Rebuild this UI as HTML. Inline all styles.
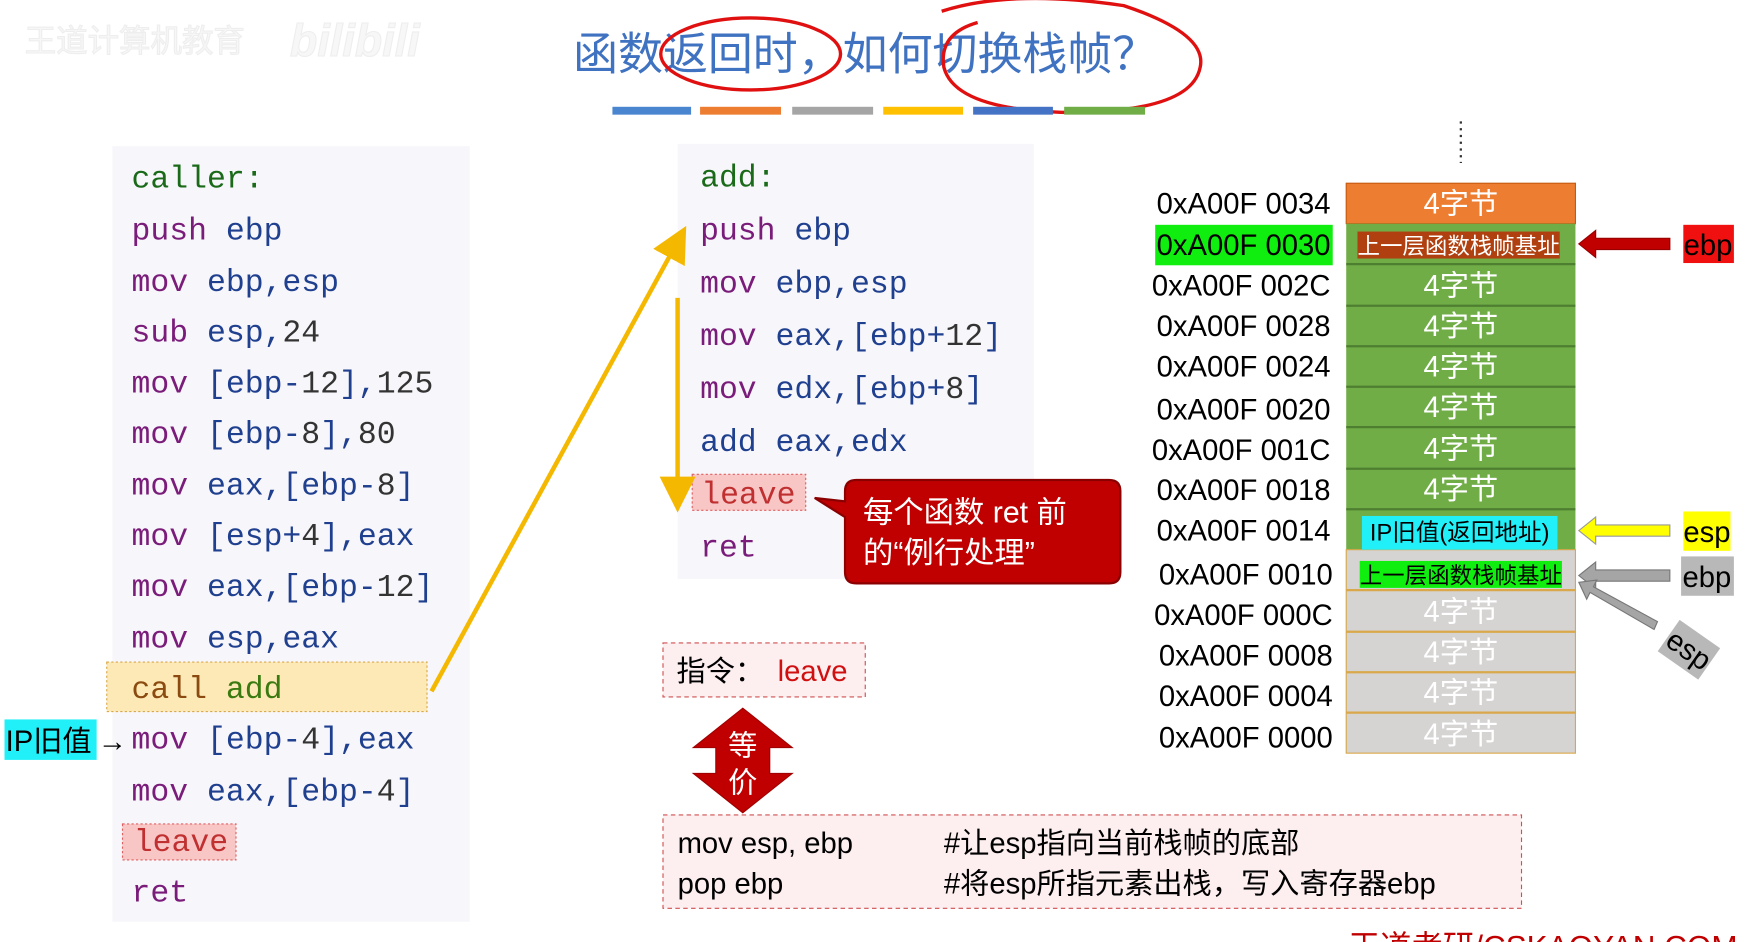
<!DOCTYPE html>
<html><head><meta charset="utf-8"><style>
html,body{margin:0;padding:0;background:#fff;width:1753px;height:942px;overflow:hidden}
svg{display:block}
.m{font-family:"Liberation Mono",monospace;font-size:28px}
.s{font-family:"Liberation Sans","Noto Sans CJK SC",sans-serif}
.k{fill:#7a1c7a}.o{fill:#1f3f8f}.n{fill:#333}
</style></head><body>
<svg width="1753" height="942" viewBox="0 0 1560 838" preserveAspectRatio="none" xmlns="http://www.w3.org/2000/svg">
<defs>
<marker id="ya" markerWidth="8" markerHeight="8" refX="4" refY="4" orient="auto" markerUnits="strokeWidth"><path d="M0,0 L8,4 L0,8 z" fill="#f5b800"/></marker>
</defs>
<rect width="1560" height="838" fill="#fff"/>
<text x="22" y="46" class="s" font-size="28" fill="#f7f7f7" stroke="#eeeeee" stroke-width="1">王道计算机教育</text>
<text x="258" y="50" class="s" font-size="40" font-style="italic" font-weight="bold" fill="#f7f7f7" stroke="#eeeeee" stroke-width="1">bilibili</text>
<text x="510" y="62" class="s" font-size="40" fill="#3f72c0">函数返回时，如何切换栈帧？</text>
<ellipse cx="668" cy="48" rx="80" ry="32" fill="none" stroke="#e01010" stroke-width="3"/>
<path d="M838,10 Q900,-10 1000,5 Q1075,30 1068,60 Q1060,100 950,100 Q850,98 840,60 Q835,30 870,20" fill="none" stroke="#e01010" stroke-width="3"/>
<g>
<rect x="545" y="95" width="70" height="7" fill="#4a86d0"/><rect x="623" y="95" width="72" height="7" fill="#ed7d31"/>
<rect x="705" y="95" width="72" height="7" fill="#a5a5a5"/><rect x="786" y="95" width="71" height="7" fill="#ffc000"/>
<rect x="866" y="95" width="71" height="7" fill="#4472c4"/><rect x="947" y="95" width="72" height="7" fill="#70ad47"/>
</g>
<rect x="100" y="130" width="318" height="690" fill="#f7f6fa"/>
<rect x="95" y="589" width="285" height="44" fill="#fde9b5" stroke="#d9a84a" stroke-dasharray="2,2"/>
<rect x="109" y="733" width="101" height="32" fill="#f9c6c6" stroke="#e06060" stroke-dasharray="2,2"/>
<g class="m">
<text x="117" y="167" fill="#1a6a1a">caller:</text>
<text x="117" y="213"><tspan class="k">push</tspan><tspan class="o"> ebp</tspan></text>
<text x="117" y="259"><tspan class="k">mov</tspan><tspan class="o"> ebp,esp</tspan></text>
<text x="117" y="304"><tspan class="k">sub</tspan><tspan class="o"> esp,</tspan><tspan class="n">24</tspan></text>
<text x="117" y="349"><tspan class="k">mov</tspan><tspan class="o"> [ebp-</tspan><tspan class="n">12</tspan><tspan class="o">],</tspan><tspan class="n">125</tspan></text>
<text x="117" y="394"><tspan class="k">mov</tspan><tspan class="o"> [ebp-</tspan><tspan class="n">8</tspan><tspan class="o">],</tspan><tspan class="n">80</tspan></text>
<text x="117" y="440"><tspan class="k">mov</tspan><tspan class="o"> eax,[ebp-</tspan><tspan class="n">8</tspan><tspan class="o">]</tspan></text>
<text x="117" y="485"><tspan class="k">mov</tspan><tspan class="o"> [esp+</tspan><tspan class="n">4</tspan><tspan class="o">],eax</tspan></text>
<text x="117" y="530"><tspan class="k">mov</tspan><tspan class="o"> eax,[ebp-</tspan><tspan class="n">12</tspan><tspan class="o">]</tspan></text>
<text x="117" y="576"><tspan class="k">mov</tspan><tspan class="o"> esp,eax</tspan></text>
<text x="117" y="621"><tspan fill="#8a4a10">call</tspan><tspan fill="#3a7a10">  add</tspan></text>
<text x="117" y="666"><tspan class="k">mov</tspan><tspan class="o"> [ebp-</tspan><tspan class="n">4</tspan><tspan class="o">],eax</tspan></text>
<text x="117" y="712"><tspan class="k">mov</tspan><tspan class="o"> eax,[ebp-</tspan><tspan class="n">4</tspan><tspan class="o">]</tspan></text>
<text x="119" y="757" fill="#c03030">leave</text>
<text x="117" y="802" class="k">ret</text>
</g>
<rect x="4" y="640" width="82" height="36" fill="#22f0f8"/>
<text x="5" y="668" class="s" font-size="26" fill="#000">IP旧值</text>
<text x="87" y="668" class="s" font-size="26" fill="#000">→</text>
<rect x="603" y="128" width="317" height="387" fill="#f7f6fa"/>
<rect x="616" y="422" width="101" height="32" fill="#f9c6c6" stroke="#e06060" stroke-dasharray="2,2"/>
<g class="m">
<text x="623" y="166" fill="#1a6a1a">add:</text>
<text x="623" y="213"><tspan class="k">push</tspan><tspan class="o"> ebp</tspan></text>
<text x="623" y="260"><tspan class="k">mov</tspan><tspan class="o"> ebp,esp</tspan></text>
<text x="623" y="307"><tspan class="k">mov</tspan><tspan class="o"> eax,[ebp+</tspan><tspan class="n">12</tspan><tspan class="o">]</tspan></text>
<text x="623" y="354"><tspan class="k">mov</tspan><tspan class="o"> edx,[ebp+</tspan><tspan class="n">8</tspan><tspan class="o">]</tspan></text>
<text x="623" y="401"><tspan class="o">add eax,edx</tspan></text>
<text x="624" y="448" fill="#c03030">leave</text>
<text x="623" y="495" class="k">ret</text>
</g>
<line x1="384" y1="615" x2="603" y2="215" stroke="#f5b800" stroke-width="4" marker-end="url(#ya)"/>
<line x1="603" y1="265" x2="603" y2="440" stroke="#f5b800" stroke-width="4" marker-end="url(#ya)"/>
<path d="M762,427 H987 Q997,427 997,437 V509 Q997,519 987,519 H762 Q752,519 752,509 V460 L725,443 L752,446 V437 Q752,427 762,427 Z" fill="#c00000" stroke="#8a0000" stroke-width="2"/>
<text x="768" y="465" class="s" font-size="27" fill="#fff">每个函数 ret 前</text>
<text x="768" y="501" class="s" font-size="27" fill="#fff">的“例行处理”</text>
<rect x="590" y="572" width="180" height="48" fill="#fdeef0" stroke="#d05050" stroke-dasharray="4,3"/>
<text x="602" y="606" class="s" font-size="26" fill="#000">指令：</text>
<text x="692" y="606" class="s" font-size="26" fill="#d01010">leave</text>
<path d="M661,630 L705,665 L685,665 L685,688 L705,688 L661,723 L617,688 L637,688 L637,665 L617,665 Z" fill="#c00000" stroke="#a00000"/>
<text x="661" y="672" text-anchor="middle" class="s" font-size="26" fill="#fff">等</text>
<text x="661" y="705" text-anchor="middle" class="s" font-size="26" fill="#fff">价</text>
<rect x="590" y="725" width="764" height="83" fill="#fdeef0" stroke="#d05050" stroke-dasharray="4,3"/>
<g class="s" font-size="26" fill="#000">
<text x="603" y="759">mov esp, ebp</text><text x="840" y="759">#让esp指向当前栈帧的底部</text>
<text x="603" y="795">pop ebp</text><text x="840" y="795">#将esp所指元素出栈，写入寄存器ebp</text>
</g>
<line x1="1300" y1="108" x2="1300" y2="145" stroke="#333" stroke-width="2" stroke-dasharray="2,4"/>
<rect x="1198" y="163" width="204" height="36" fill="#ed7d31" stroke="#c55a11"/>
<rect x="1198" y="199" width="204" height="290" fill="#70ad47"/>
<rect x="1198" y="489" width="204" height="181" fill="#d6d3d3" stroke="#d9a84a"/>
<g stroke="#4e7f30" stroke-width="2">
<line x1="1198" y1="235" x2="1402" y2="235"/><line x1="1198" y1="272" x2="1402" y2="272"/><line x1="1198" y1="308" x2="1402" y2="308"/>
<line x1="1198" y1="344" x2="1402" y2="344"/><line x1="1198" y1="380" x2="1402" y2="380"/><line x1="1198" y1="417" x2="1402" y2="417"/>
<line x1="1198" y1="453" x2="1402" y2="453"/>
</g>
<g stroke="#d9a84a" stroke-width="2">
<line x1="1198" y1="525" x2="1402" y2="525"/><line x1="1198" y1="562" x2="1402" y2="562"/><line x1="1198" y1="598" x2="1402" y2="598"/><line x1="1198" y1="634" x2="1402" y2="634"/>
</g>
<g class="s" font-size="26" text-anchor="middle" fill="#fff">
<text x="1300" y="190">4字节</text>
<text x="1300" y="263">4字节</text><text x="1300" y="299">4字节</text><text x="1300" y="335">4字节</text>
<text x="1300" y="371">4字节</text><text x="1300" y="408">4字节</text><text x="1300" y="444">4字节</text>
<text x="1300" y="553">4字节</text><text x="1300" y="589">4字节</text><text x="1300" y="625">4字节</text><text x="1300" y="662">4字节</text>
</g>
<rect x="1208" y="206" width="180" height="24" fill="#b0400f"/>
<text x="1298" y="226" text-anchor="middle" class="s" font-size="20" fill="#fff">上一层函数栈帧基址</text>
<rect x="1212" y="459" width="174" height="30" fill="#22f0f8"/>
<text x="1299" y="481" text-anchor="middle" class="s" font-size="21" fill="#000">IP旧值(返回地址)</text>
<rect x="1210" y="499" width="180" height="24" fill="#10ee10"/>
<text x="1300" y="519" text-anchor="middle" class="s" font-size="20" fill="#000">上一层函数栈帧基址</text>
<rect x="1028" y="200" width="158" height="36" fill="#10ee10"/>
<g class="s" font-size="26" text-anchor="end" fill="#000">
<text x="1184" y="190">0xA00F 0034</text><text x="1184" y="227">0xA00F 0030</text><text x="1184" y="263">0xA00F 002C</text>
<text x="1184" y="299">0xA00F 0028</text><text x="1184" y="335">0xA00F 0024</text><text x="1184" y="373">0xA00F 0020</text>
<text x="1184" y="409">0xA00F 001C</text><text x="1184" y="445">0xA00F 0018</text><text x="1184" y="481">0xA00F 0014</text>
<text x="1186" y="520">0xA00F 0010</text><text x="1186" y="556">0xA00F 000C</text><text x="1186" y="592">0xA00F 0008</text>
<text x="1186" y="628">0xA00F 0004</text><text x="1186" y="665">0xA00F 0000</text>
</g>
<path d="M1486,212 H1420 V205 L1405,217 L1420,229 V222 H1486 Z" fill="#c00000" stroke="#900" />
<rect x="1498" y="200" width="45" height="34" fill="#f01010"/>
<text x="1520" y="227" text-anchor="middle" class="s" font-size="26" fill="#000">ebp</text>
<path d="M1486,467 H1420 V460 L1405,472 L1420,484 V477 H1486 Z" fill="#ffff00" stroke="#999"/>
<rect x="1498" y="455" width="42" height="35" fill="#ffff00"/>
<text x="1519" y="482" text-anchor="middle" class="s" font-size="26" fill="#000">esp</text>
<path d="M1486,507 H1420 V500 L1405,512 L1420,524 V517 H1486 Z" fill="#a5a5a5" stroke="#777"/>
<rect x="1496" y="495" width="47" height="35" fill="#b8b8b8"/>
<text x="1519" y="522" text-anchor="middle" class="s" font-size="26" fill="#000">ebp</text>
<path d="M1475,553 L1418,522 L1421,516 L1405,518 L1412,533 L1415,527 L1472,560 Z" fill="#a5a5a5" stroke="#777"/>
<g transform="translate(1503,578) rotate(35)"><rect x="-22" y="-17" width="44" height="34" fill="#b8b8b8"/><text x="0" y="9" text-anchor="middle" class="s" font-size="26" fill="#000">esp</text></g>
<text x="1200" y="852" class="s" font-size="28" fill="#c00000">王道考研/CSKAOYAN.COM</text>
</svg>
</body></html>
